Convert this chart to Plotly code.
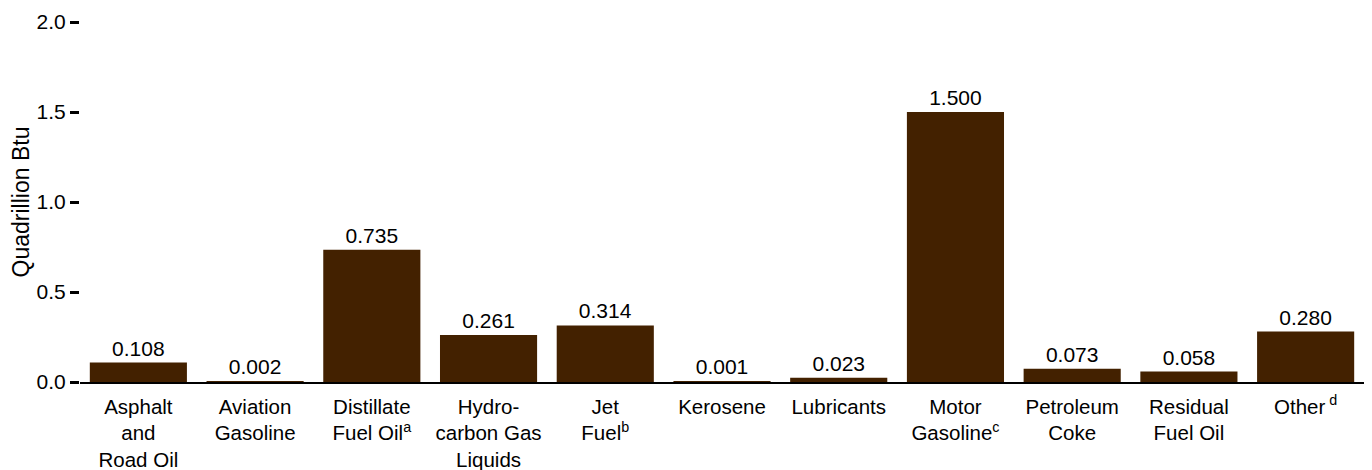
import plotly.graph_objects as go

categories = ["Asphalt<br>and<br>Road Oil", "Aviation<br>Gasoline", "Distillate<br>Fuel Oil<sup>a</sup>",
              "Hydro-<br>carbon Gas<br>Liquids", "Jet<br>Fuel<sup>b</sup>", "Kerosene", "Lubricants",
              "Motor<br>Gasoline<sup>c</sup>", "Petroleum<br>Coke", "Residual<br>Fuel Oil", "Other<sup> d</sup>"]
values = [0.108, 0.002, 0.735, 0.261, 0.314, 0.001, 0.023, 1.500, 0.073, 0.058, 0.280]
value_labels = ["0.108", "0.002", "0.735", "0.261", "0.314", "0.001", "0.023", "1.500", "0.073", "0.058", "0.280"]
y_ticks = [0, 0.5, 1.0, 1.5, 2.0]
y_tick_labels = ["0.0", "0.5", "1.0", "1.5", "2.0"]

FONT = "Liberation Sans, Arial, sans-serif"

fig = go.Figure(go.Bar(
    x=list(range(len(categories))), y=values, marker_color="#432100", marker_line_width=0,
    text=value_labels, textposition="outside", cliponaxis=False,
    textfont=dict(size=21, color="black", family=FONT),
))
fig.update_layout(
    width=1364, height=462, plot_bgcolor="white", paper_bgcolor="white",
    margin=dict(l=72, r=8, t=14, b=88, autoexpand=False), bargap=0.168, showlegend=False,
    font=dict(family=FONT, size=20, color="black"),
)
fig.update_xaxes(tickmode="array", tickvals=list(range(len(categories))), ticktext=categories,
                 range=[-0.5, len(categories) - 0.5], showline=True, linecolor="black", linewidth=2,
                 ticks="outside", ticklen=5, tickcolor="rgba(0,0,0,0)", showgrid=False,
                 tickfont=dict(size=20.5), tickangle=0, automargin=False)
fig.update_yaxes(range=[0, 2.0], tickmode="array", tickvals=y_ticks, ticktext=y_tick_labels,
                 showgrid=False, showline=False, zeroline=False, ticks="outside", ticklen=9,
                 tickwidth=3, tickcolor="black", tickfont=dict(size=21), automargin=False,
                 title=dict(text="Quadrillion Btu", font=dict(size=23), standoff=2))
fig.write_html("out.html")
